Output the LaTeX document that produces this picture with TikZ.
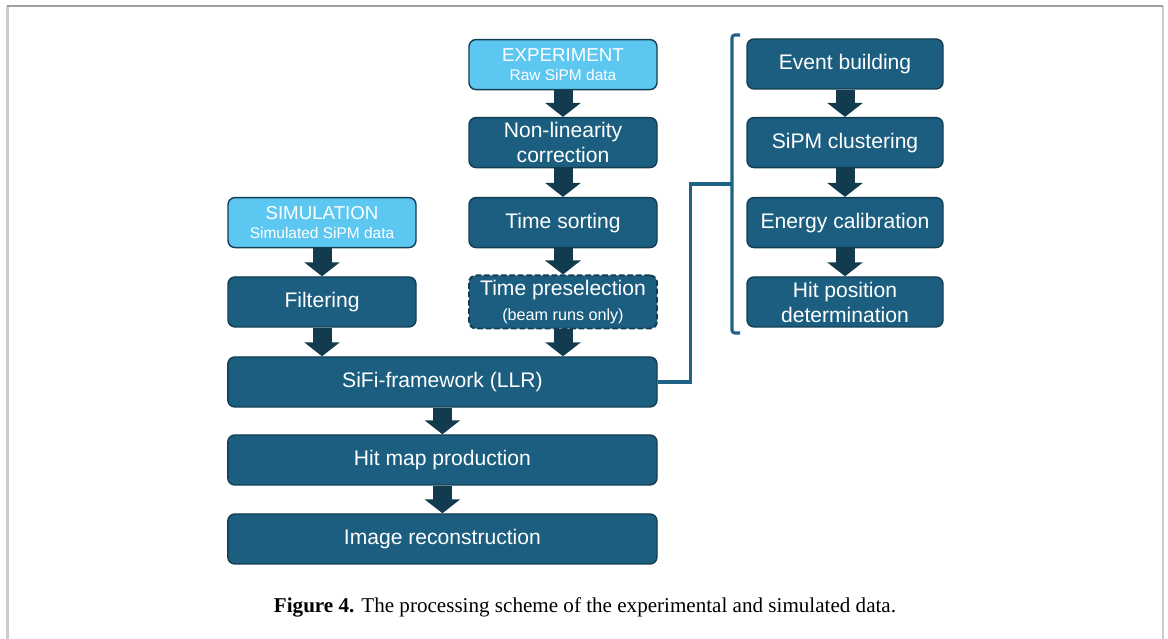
\documentclass[tikz,border=0pt]{standalone}
\usepackage{fontspec}
\setmainfont{Liberation Serif}
\setsansfont{Liberation Sans}
\usetikzlibrary{arrows.meta}
\definecolor{boxblue}{HTML}{1B5E80}
\definecolor{boxedge}{HTML}{123D52}
\definecolor{skyblue}{HTML}{5CC8F2}
\definecolor{flowdark}{HTML}{133B50}
\definecolor{linkblue}{HTML}{1E6286}

\begin{document}
\begin{tikzpicture}[font=\sffamily,
    box/.style={draw=boxedge, fill=boxblue, line width=1pt, rounded corners=5pt,
        text=white, align=center, minimum width=4.7cm, minimum height=1.25cm,
        font=\sffamily\fontsize{15}{17.8}\selectfont},
    srcbox/.style={box, fill=skyblue, font=\sffamily\fontsize{13.3}{15}\selectfont},
    widebox/.style={box, minimum width=10.73cm},
    flow/.style={flowdark, line width=0.475cm,
        -{Triangle[width=0.875cm, length=0.35cm]}},
    link/.style={linkblue, line width=2.2pt}]
  \useasboundingbox (0,0) rectangle (29.2,15.975);
  % page frame
  \draw[gray!40, line width=1.6pt] (0.19,0) -- (0.19,15.825);
  \draw[gray!40, line width=1.6pt] (29.075,0) -- (29.075,15.825);
  \draw[gray!75, line width=0.8pt] (0.175,15.825) -- (29.075,15.825);

  % data sources
  \node[srcbox] (exp) at (14.075,14.36) {EXPERIMENT\\[-2pt]{\fontsize{11}{13}\selectfont Raw SiPM data}};
  \node[srcbox] (sim) at (8.05,10.41) {SIMULATION\\[-2pt]{\fontsize{11}{13}\selectfont Simulated SiPM data}};

  % experimental branch
  \node[box] (nonlin) at (14.075,12.41) {Non-linearity\\correction};
  \node[box] (tsort) at (14.075,10.41) {Time sorting};
  \node[box, dashed, dash pattern=on 4pt off 2pt, line width=1.4pt] (presel) at (14.075,8.425)
      {Time preselection\\{\fontsize{11.5}{13}\selectfont (beam runs only)}};
  \node[box] (filt) at (8.05,8.425) {Filtering};

  % common chain
  \node[widebox] (llr) at (11.06,6.425) {SiFi-framework (LLR)};
  \node[widebox] (hitmap) at (11.06,4.475) {Hit map production};
  \node[widebox] (imrec) at (11.06,2.5) {Image reconstruction};

  % steps inside the framework
  \node[box, minimum width=4.9cm] (evb) at (21.125,14.375) {Event building};
  \node[box, minimum width=4.9cm] (clus) at (21.125,12.41) {SiPM clustering};
  \node[box, minimum width=4.9cm] (ecal) at (21.125,10.41) {Energy calibration};
  \node[box, minimum width=4.9cm] (hitpos) at (21.125,8.425) {Hit position\\determination};

  \draw[flow] (exp) -- (nonlin);
  \draw[flow] (nonlin) -- (tsort);
  \draw[flow] (tsort) -- (presel);
  \draw[flow] (sim) -- (filt);
  \draw[flow] (filt.south) -- (filt.south |- llr.north);
  \draw[flow] (presel.south) -- (presel.south |- llr.north);
  \draw[flow] (llr) -- (hitmap);
  \draw[flow] (hitmap) -- (imrec);
  \draw[flow] (evb) -- (clus);
  \draw[flow] (clus) -- (ecal);
  \draw[flow] (ecal) -- (hitpos);

  % bracket around the framework steps
  \coordinate (brk) at (18.3,11.375);
  \draw[link, rounded corners=2pt] (18.5,15.1) -- (18.3,15.1) -- (18.3,7.65) -- (18.5,7.65);
  \draw[link] (llr.east) -- ++(0.825,0) |- (brk);

  \node[anchor=base, font=\rmfamily\fontsize{15}{17}\selectfont] (cap) at (14.625,0.65)
      {\textbf{Figure 4.} The processing scheme of the experimental and simulated data.};
\end{tikzpicture}
\end{document}
